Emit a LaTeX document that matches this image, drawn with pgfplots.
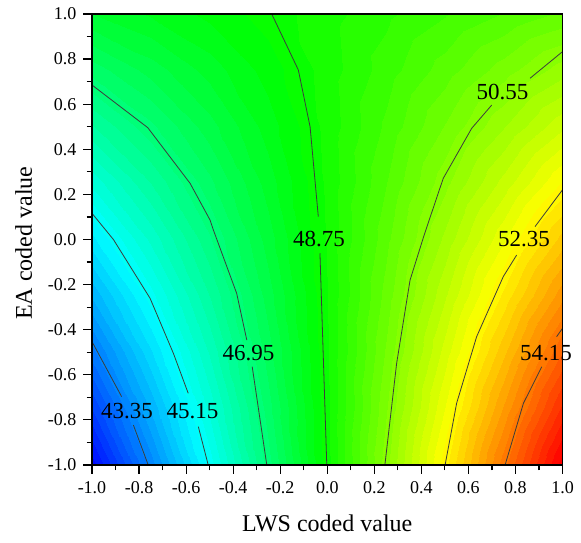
\documentclass[border=0pt]{standalone}
\usepackage{pgfplots}
\pgfplotsset{compat=1.18}
\usepackage{fontspec}
\setmainfont{Liberation Serif}
\definecolor{cline}{RGB}{60,60,60}
\pgfplotsset{
  cl/.style={cline, line width=0.8pt, no marks},
}
\begin{document}
\begin{tikzpicture}
\useasboundingbox (-92pt,-78pt) rectangle (489pt,465pt);
\begin{axis}[
  at={(0pt,0pt)}, anchor=south west,
  scale only axis, width=470.5pt, height=451pt,
  view={0}{90},
  xmin=-1, xmax=1, ymin=-1, ymax=1, zmin=40, zmax=60,
  ztick=\empty,
  xtick={-1,-0.8,-0.6,-0.4,-0.2,0,0.2,0.4,0.6,0.8,1},
  ytick={-1,-0.8,-0.6,-0.4,-0.2,0,0.2,0.4,0.6,0.8,1},
  xticklabels={-1.0,-0.8,-0.6,-0.4,-0.2,0.0,0.2,0.4,0.6,0.8,1.0},
  yticklabels={-1.0,-0.8,-0.6,-0.4,-0.2,0.0,0.2,0.4,0.6,0.8,1.0},
  minor tick num=1,
  tick align=outside,
  xtick pos=left, ytick pos=left,
  major tick length=8.5pt, minor tick length=5pt,
  every tick/.style={black, line width=1.2pt},
  axis line style={black, line width=1.3pt},
  tick label style={font=\fontsize{18}{20}\selectfont, inner sep=0pt},
  xticklabel style={yshift=-8pt},
  yticklabel style={xshift=-7pt},
  label style={font=\fontsize{24}{26}\selectfont},
  xlabel={LWS coded value},
  xlabel style={at={(axis description cs:0.5,0)}, anchor=base, yshift=-66pt},
  colormap={bands}{
    rgb255=(0,8,255) rgb255=(0,24,255) rgb255=(0,40,255) rgb255=(0,56,255)
    rgb255=(0,72,255) rgb255=(0,88,255) rgb255=(0,104,255) rgb255=(0,120,255)
    rgb255=(0,135,255) rgb255=(0,151,255) rgb255=(0,167,255) rgb255=(0,183,255)
    rgb255=(0,199,255) rgb255=(0,215,255) rgb255=(0,231,255) rgb255=(0,247,255)
    rgb255=(0,255,247) rgb255=(0,255,231) rgb255=(0,255,215) rgb255=(0,255,199)
    rgb255=(0,255,183) rgb255=(0,255,167) rgb255=(0,255,151) rgb255=(0,255,135)
    rgb255=(0,255,120) rgb255=(0,255,104) rgb255=(0,255,88) rgb255=(0,255,72)
    rgb255=(0,255,56) rgb255=(0,255,40) rgb255=(0,255,24) rgb255=(0,255,8)
    rgb255=(8,255,0) rgb255=(24,255,0) rgb255=(40,255,0) rgb255=(56,255,0)
    rgb255=(72,255,0) rgb255=(88,255,0) rgb255=(104,255,0) rgb255=(120,255,0)
    rgb255=(135,255,0) rgb255=(151,255,0) rgb255=(167,255,0) rgb255=(183,255,0)
    rgb255=(199,255,0) rgb255=(215,255,0) rgb255=(231,255,0) rgb255=(247,255,0)
    rgb255=(255,247,0) rgb255=(255,231,0) rgb255=(255,215,0) rgb255=(255,199,0)
    rgb255=(255,183,0) rgb255=(255,167,0) rgb255=(255,151,0) rgb255=(255,135,0)
    rgb255=(255,120,0) rgb255=(255,104,0) rgb255=(255,88,0) rgb255=(255,72,0)
    rgb255=(255,56,0) rgb255=(255,40,0) rgb255=(255,24,0) rgb255=(255,8,0)
    rgb255=(255,0,0)},
  colormap access=piecewise constant,
  point meta min=41.55, point meta max=55.95,
  clip mode=individual,
]
\addplot3[surf, shader=interp, mesh/rows=9, mesh/cols=9, point meta=\thisrow{z}] table {
x y z
-1 -1 41.645
-0.75 -1 43.425
-0.5 -1 45.205
-0.25 -1 46.985
0 -1 48.765
0.25 -1 50.545
0.5 -1 52.325
0.75 -1 54.105
1 -1 55.885
-1 -0.75 42.436
-0.75 -0.75 44.026
-0.5 -0.75 45.615
-0.25 -0.75 47.204
0 -0.75 48.794
0.25 -0.75 50.383
0.5 -0.75 51.973
0.75 -0.75 53.562
1 -0.75 55.151
-1 -0.5 43.228
-0.75 -0.5 44.626
-0.5 -0.5 46.025
-0.25 -0.5 47.424
0 -0.5 48.823
0.25 -0.5 50.221
0.5 -0.5 51.620
0.75 -0.5 53.019
1 -0.5 54.418
-1 -0.25 44.019
-0.75 -0.25 45.227
-0.5 -0.25 46.435
-0.25 -0.25 47.643
0 -0.25 48.851
0.25 -0.25 50.059
0.5 -0.25 51.268
0.75 -0.25 52.476
1 -0.25 53.684
-1 0 44.810
-0.75 0 45.828
-0.5 0 46.845
-0.25 0 47.863
0 0 48.880
0.25 0 49.898
0.5 0 50.915
0.75 0 51.933
1 0 52.950
-1 0.25 45.601
-0.75 0.25 46.428
-0.5 0.25 47.255
-0.25 0.25 48.082
0 0.25 48.909
0.25 0.25 49.736
0.5 0.25 50.563
0.75 0.25 51.389
1 0.25 52.216
-1 0.5 46.393
-0.75 0.5 47.029
-0.5 0.5 47.665
-0.25 0.5 48.301
0 0.5 48.938
0.25 0.5 49.574
0.5 0.5 50.210
0.75 0.5 50.846
1 0.5 51.483
-1 0.75 47.184
-0.75 0.75 47.629
-0.5 0.75 48.075
-0.25 0.75 48.521
0 0.75 48.966
0.25 0.75 49.412
0.5 0.75 49.857
0.75 0.75 50.303
1 0.75 50.749
-1 1 47.975
-0.75 1 48.230
-0.5 1 48.485
-0.25 1 48.740
0 1 48.995
0.25 1 49.250
0.5 1 49.505
0.75 1 49.760
1 1 50.015
};
% contour 48.75
\addplot3[cl] coordinates {(-0.236,1,50) (-0.123,0.752,50) (-0.073,0.500,50) (-0.038,0.101,50)};
\addplot3[cl] coordinates {(-0.031,-0.061,50) (-0.002,-1,50)};
% contour 46.95
\addplot3[cl] coordinates {(-1,0.685,50) (-0.763,0.496,50) (-0.583,0.249,50) (-0.498,0.086,50) (-0.484,0.042,50) (-0.385,-0.239,50) (-0.342,-0.446,50)};
\addplot3[cl] coordinates {(-0.319,-0.564,50) (-0.257,-1,50)};
% contour 45.15
\addplot3[cl] coordinates {(-1,0.116,50) (-0.909,0.0,50) (-0.753,-0.261,50) (-0.654,-0.505,50) (-0.591,-0.682,50)};
\addplot3[cl] coordinates {(-0.548,-0.830,50) (-0.506,-1,50)};
% contour 43.35
\addplot3[cl] coordinates {(-1,-0.453,50) (-0.874,-0.697,50)};
\addplot3[cl] coordinates {(-0.824,-0.823,50) (-0.761,-1,50)};
% contour 50.55
\addplot3[cl] coordinates {(1,0.833,50) (0.862,0.715,50)};
\addplot3[cl] coordinates {(0.699,0.596,50) (0.614,0.493,50) (0.493,0.271,50) (0.412,0.020,50) (0.352,-0.180,50) (0.295,-0.549,50) (0.245,-1,50)};
% contour 52.35
\addplot3[cl] coordinates {(1,0.220,50) (0.883,0.057,50)};
\addplot3[cl] coordinates {(0.805,-0.069,50) (0.748,-0.165,50) (0.635,-0.431,50) (0.550,-0.726,50) (0.501,-1,50)};
% contour 54.15
\addplot3[cl] coordinates {(1,-0.394,50) (0.975,-0.431,50)};
\addplot3[cl] coordinates {(0.912,-0.564,50) (0.834,-0.726,50) (0.756,-1,50)};
% labels
\begin{scope}[every node/.style={font=\fontsize{23}{25}\selectfont, inner sep=0pt, text=black}]
\node at (axis cs:-0.035,0.002,50) {48.75};
\node at (axis cs:0.745,0.655,50) {50.55};
\node at (axis cs:0.836,0.002,50) {52.35};
\node at (axis cs:-0.335,-0.503,50) {46.95};
\node at (axis cs:0.93,-0.503,50) {54.15};
\node at (axis cs:-0.851,-0.761,50) {43.35};
\node at (axis cs:-0.573,-0.761,50) {45.15};
\end{scope}
\end{axis}
\node[rotate=90, anchor=base, inner sep=0pt, font=\fontsize{24}{26}\selectfont] at (-60pt,221.7pt) {EA coded value};
\end{tikzpicture}
\end{document}
